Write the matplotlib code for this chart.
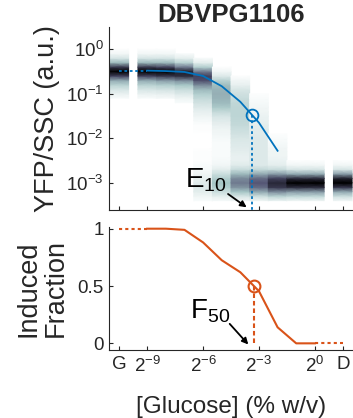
import numpy as np
import matplotlib.pyplot as plt

plt.rcParams['font.family'] = ['Liberation Sans', 'DejaVu Sans']
plt.rcParams['mathtext.fontset'] = 'custom'
plt.rcParams['mathtext.rm'] = 'Liberation Sans'
plt.rcParams['mathtext.it'] = 'Liberation Sans:italic'
plt.rcParams['mathtext.bf'] = 'Liberation Sans:bold'

dark = '#262626'
blue = '#0072BD'
orange = '#D95319'

# glucose in log2 units; G and D sit off the scale at the ends
col_x = [-10.5, -9, -8, -7, -6, -5, -4, -3, -2, -1, 0, 1.5]
# lowest log10(YFP/SSC) of each column, densities go up from there in 0.1 steps
col_lo = [-1.1, -1.1, -1.1, -1.2, -3.4, -3.4, -3.4, -3.4, -3.4, -3.4, -3.4, -3.4]
col_dens = [
    [0.02, 0.06, 0.12, 0.2, 0.35, 0.7, 1.0, 0.75, 0.3, 0.12, 0.04, 0.01],
    [0.02, 0.06, 0.12, 0.2, 0.35, 0.7, 1.0, 0.75, 0.3, 0.12, 0.04, 0.01],
    [0.03, 0.07, 0.13, 0.22, 0.4, 0.75, 1.0, 0.7, 0.3, 0.12, 0.04, 0.01],
    [0.02, 0.05, 0.1, 0.16, 0.25, 0.45, 0.8, 0.85, 0.5, 0.2, 0.08, 0.02],
    [0.02, 0.05, 0.08, 0.1, 0.09, 0.07, 0.05, 0.03, 0.02, 0.01,
     0.01, 0.01, 0.0, 0.0, 0.0, 0.0, 0.01,
     0.01, 0.03, 0.05, 0.07, 0.1, 0.13, 0.17, 0.22, 0.3, 0.45, 0.65, 0.7, 0.5, 0.22, 0.08, 0.02],
    [0.03, 0.08, 0.15, 0.22, 0.26, 0.22, 0.15, 0.08, 0.04, 0.03, 0.02, 0.02, 0.02,
     0.02, 0.03, 0.04, 0.05, 0.07, 0.09, 0.12, 0.17, 0.24, 0.29, 0.32, 0.33, 0.32, 0.28, 0.2, 0.1, 0.04, 0.01],
    [0.04, 0.12, 0.25, 0.42, 0.5, 0.45, 0.3, 0.16, 0.09, 0.07, 0.07, 0.08, 0.09, 0.1, 0.11,
     0.13, 0.15, 0.17, 0.18, 0.19, 0.19, 0.19, 0.18, 0.16, 0.14, 0.11, 0.07, 0.04, 0.01],
    [0.05, 0.15, 0.35, 0.55, 0.62, 0.55, 0.35, 0.17, 0.1, 0.1, 0.1, 0.1, 0.1,
     0.1, 0.1, 0.09, 0.09, 0.08, 0.07, 0.06, 0.05, 0.04, 0.03, 0.02, 0.01],
    [0.06, 0.2, 0.45, 0.75, 0.82, 0.7, 0.4, 0.16, 0.08, 0.06, 0.05, 0.05, 0.04, 0.03, 0.02, 0.01],
    [0.05, 0.18, 0.4, 0.8, 1.0, 0.8, 0.35, 0.12, 0.04, 0.01],
    [0.05, 0.18, 0.4, 0.8, 1.0, 0.8, 0.35, 0.12, 0.04, 0.01],
    [0.04, 0.15, 0.35, 0.75, 1.0, 0.85, 0.4, 0.12, 0.04, 0.01],
]

# mean expression of the induced cells
ind_x = [-9, -8, -7, -6, -5, -4, -3, -2]
ind_y = [0.331, 0.324, 0.309, 0.251, 0.148, 0.066, 0.0224, 0.00525]

# induced fraction
frac_x = [-9, -8, -7, -6, -5, -4, -3, -2, -1, 0]
frac_y = [1.0, 1.0, 0.99, 0.88, 0.725, 0.62, 0.455, 0.14, 0.0, 0.0]

tick_pos = [-10.5, -9, -6, -3, 0, 1.5]
tick_lab = ['G', '$2^{-9}$', '$2^{-6}$', '$2^{-3}$', '$2^{0}$', 'D']
xlim = (-11.05, 2.05)

fig = plt.figure(figsize=(3.53, 4.18), dpi=100)
ax1 = fig.add_axes([0.309, 0.4976, 0.691, 0.4378])
ax2 = fig.add_axes([0.309, 0.1627, 0.691, 0.2943])

# --- top: distributions ---
for x, lo, d in zip(col_x, col_lo, col_dens):
    d = np.array(d)
    ly = lo + 0.1 * np.arange(len(d))
    X = np.column_stack([np.full(len(d), x - 0.5), np.full(len(d), x + 0.5)])
    Y = np.column_stack([10 ** ly, 10 ** ly])
    C = np.column_stack([d, d])
    ax1.pcolormesh(X, Y, C, shading='gouraud', cmap='bone_r', vmin=0, vmax=1, zorder=1)

ax1.set_yscale('log')
ax1.set_ylim(10 ** -3.61, 10 ** 0.5)
ax1.set_xlim(*xlim)

# E10: where induced mean drops to a tenth of its plateau
thr = ind_y[0] / 10
e10_x = np.interp(np.log10(thr), np.log10(ind_y[::-1]), ind_x[::-1])
ax1.plot(ind_x, ind_y, color=blue, lw=1.3, zorder=3)
ax1.plot([col_x[0], ind_x[0]], [ind_y[0], ind_y[0]], color=blue, lw=1.3,
         ls=(0, (1.5, 1.5)), zorder=3)
ax1.plot([e10_x, e10_x], [thr, 10 ** -3.61], color=blue, lw=1.3,
         ls=(0, (1.5, 1.5)), zorder=3)
ax1.plot([e10_x], [thr], 'o', mfc='none', mec=blue, ms=8.5, mew=1.3, zorder=4)
ax1.annotate('', xy=(e10_x - 0.3, 10 ** -3.55), xytext=(e10_x - 1.3, 10 ** -3.25),
             arrowprops=dict(arrowstyle='-|>', color='black', lw=1.3,
                             mutation_scale=9, shrinkA=0, shrinkB=0))
ax1.text(e10_x - 1.35, 10 ** -3.1, r'E$_{\mathrm{10}}$', fontsize=20, ha='right',
         va='baseline', color='black')

ax1.set_yticks([1, 0.1, 0.01, 0.001])
ax1.set_yticklabels(['$10^{0}$', '$10^{-1}$', '$10^{-2}$', '$10^{-3}$'])
ax1.minorticks_off()
ax1.set_xticks(tick_pos)
ax1.set_xticklabels([])
ax1.set_ylabel('YFP/SSC (a.u.)', fontsize=19.5, color=dark, labelpad=4)
ax1.set_title('DBVPG1106', fontsize=18.5, fontweight='bold', color=dark, pad=3)

# --- bottom: induced fraction ---
f50_x = np.interp(0.5, frac_y[::-1], frac_x[::-1])
ax2.plot(frac_x, frac_y, color=orange, lw=1.5, zorder=3)
ax2.plot([col_x[0], frac_x[0]], [frac_y[0], frac_y[0]], color=orange, lw=1.5,
         ls=(0, (1.5, 1.5)))
ax2.plot([frac_x[-1], col_x[-1]], [frac_y[-1], frac_y[-1]], color=orange, lw=1.5,
         ls=(0, (1.5, 1.5)))
ax2.plot([f50_x, f50_x], [0, 0.5], color=orange, lw=1.5, ls=(0, (2.2, 1.4)))
ax2.plot([f50_x], [0.5], 'o', mfc='none', mec=orange, ms=8.5, mew=1.5, zorder=4)
ax2.annotate('', xy=(f50_x - 0.3, -0.01), xytext=(f50_x - 1.3, 0.17),
             arrowprops=dict(arrowstyle='-|>', color='black', lw=1.3,
                             mutation_scale=9, shrinkA=0, shrinkB=0))
ax2.text(f50_x - 1.3, 0.22, r'F$_{\mathrm{50}}$', fontsize=20, ha='right',
         va='baseline', color='black')

ax2.set_xlim(*xlim)
ax2.set_ylim(-0.058, 1.015)
ax2.set_yticks([0, 0.5, 1])
ax2.set_yticklabels(['0', '0.5', '1'])
ax2.set_xticks(tick_pos)
ax2.set_xticklabels(tick_lab)
ax2.set_ylabel('Induced\nFraction', fontsize=19.5, color=dark, labelpad=6, linespacing=1.05)
ax2.set_xlabel('[Glucose] (% w/v)', fontsize=17.5, color=dark, labelpad=15)

for ax in (ax1, ax2):
    for s in ('top', 'right'):
        ax.spines[s].set_visible(False)
    for s in ('left', 'bottom'):
        ax.spines[s].set_color(dark)
        ax.spines[s].set_linewidth(0.8)
    ax.tick_params(direction='in', length=3, width=0.8, color=dark,
                   labelcolor=dark, labelsize=13.5, pad=4)

fig.savefig('out.png', dpi=100)
